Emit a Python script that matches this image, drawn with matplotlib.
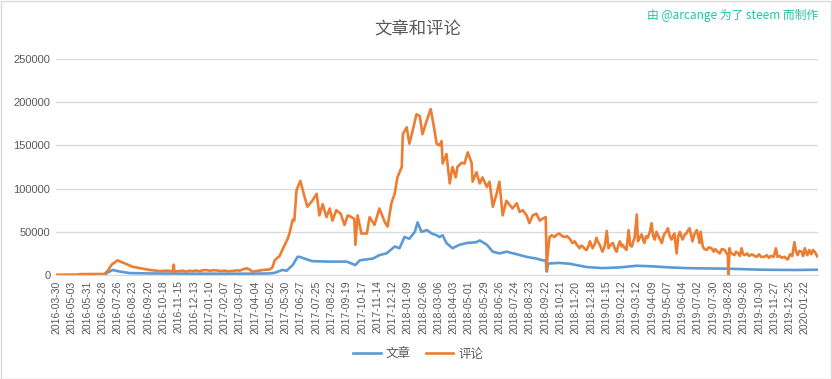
import matplotlib
matplotlib.use("Agg")
import matplotlib.pyplot as plt
import numpy as np
from matplotlib.patches import Rectangle

plt.rcParams['font.family'] = ['Noto Sans CJK SC', 'DejaVu Sans']

# tick labels, one every 28 data points
tick_dates = [
    "2016-03-30", "2016-05-03", "2016-05-31", "2016-06-28", "2016-07-26", "2016-08-23",
    "2016-09-20", "2016-10-18", "2016-11-15", "2016-12-13", "2017-01-10", "2017-02-07",
    "2017-03-07", "2017-04-04", "2017-05-02", "2017-05-30", "2017-06-27", "2017-07-25",
    "2017-08-22", "2017-09-19", "2017-10-17", "2017-11-14", "2017-12-12", "2018-01-09",
    "2018-02-06", "2018-03-06", "2018-04-03", "2018-05-01", "2018-05-29", "2018-06-26",
    "2018-07-24", "2018-08-23", "2018-09-22", "2018-10-21", "2018-11-20", "2018-12-18",
    "2019-01-15", "2019-02-12", "2019-03-12", "2019-04-09", "2019-05-07", "2019-06-04",
    "2019-07-02", "2019-07-30", "2019-08-28", "2019-09-26", "2019-10-30", "2019-11-27",
    "2019-12-25", "2020-01-22",
]
n_points = 1396

# 评论 (comments): sample day index -> value (in thousands)
comment_day = [
    0, 39, 42, 88, 94, 101, 112, 119, 127, 139, 152, 171, 189, 204, 213, 215, 216,
    231, 237, 244, 250, 256, 262, 268, 275, 281, 287, 293, 300, 308, 315, 323, 330,
    336, 342, 348, 351, 354, 359, 365, 372, 378, 385, 391, 396,
    400, 409, 414, 424, 427,
    433, 436, 440, 447, 455, 460, 469, 473, 477, 482, 488, 495, 501, 506, 513, 521, 528,
    534, 541, 546, 548, 552, 559, 569, 574, 583, 592, 602, 607, 614, 620, 625, 633, 635,
    642, 647, 653, 660, 666, 671, 679, 686, 691, 697, 702, 706, 708, 715, 721, 726, 732,
    735, 743, 748, 754, 761, 763, 770, 776, 781, 789, 794, 800, 807, 812, 818, 825, 831,
    836, 844, 849, 855, 862, 867, 873, 880, 886, 891, 897, 899, 900,
    904, 908, 913, 918, 922, 927, 932, 936, 941, 946, 950, 954, 959, 962, 965, 969, 972,
    975, 978, 981, 983, 987, 990, 993, 996, 999, 1001, 1005, 1009, 1012, 1016, 1020, 1024,
    1027, 1030, 1033, 1036, 1038, 1042, 1045, 1049, 1052, 1055, 1058, 1060, 1064, 1066,
    1070, 1073, 1076, 1078, 1081, 1084, 1088, 1091, 1094, 1097, 1100, 1102, 1106, 1110,
    1113, 1115, 1118, 1121, 1125, 1128, 1131, 1133, 1137, 1140, 1143, 1146, 1148, 1152,
    1155, 1158, 1161, 1164, 1166, 1170, 1174, 1177, 1179, 1181, 1185, 1188, 1192, 1196,
    1201, 1205, 1208, 1212, 1216, 1220, 1225, 1228, 1231, 1232, 1234, 1236, 1240, 1243,
    1246, 1250, 1253, 1256, 1259, 1262, 1266, 1270, 1275, 1280, 1284, 1288, 1292, 1298,
    1302, 1306, 1310, 1315, 1319, 1322, 1326, 1330, 1335, 1338, 1341, 1345, 1349, 1353,
    1356, 1359, 1362, 1366, 1369, 1372, 1375, 1377, 1380, 1384, 1387, 1390, 1393, 1395,
]
comment_k = [
    0, 0.3, 1, 1.2, 5, 12, 17, 15, 13, 9.6, 8, 5.8, 4.6, 5, 4.2, 12, 4,
    5, 4, 5, 4.5, 5.2, 4.2, 5.5, 5.8, 4.8, 5.5, 5.4, 4.6, 5, 4.3, 4.6, 5.4,
    5, 6.5, 7.7, 7, 6.5, 3.8, 4.5, 5, 5.8, 6.2, 6.5, 9,
    17, 22, 29, 42, 48,
    64, 63, 98, 109, 90, 79, 86, 90, 94, 69, 82, 67, 77, 63, 75, 71, 58,
    69, 67, 65, 35, 69, 48, 48, 67, 58, 77, 61, 56, 83, 94, 113, 125, 163,
    171, 152, 167, 186, 184, 163, 179, 192, 175, 152, 150, 155, 129, 140, 106, 125, 113,
    125, 130, 129, 142, 130, 108, 119, 106, 113, 102, 108, 79, 94, 108, 69, 86, 81,
    77, 83, 73, 75, 69, 60, 69, 71, 63, 65, 67, 6, 21,
    44, 46, 44, 47, 48, 45, 44, 45, 42, 37, 39, 35, 31, 34, 33, 30, 29,
    33, 39, 34, 31, 36, 43, 38, 35, 30, 27, 33, 51, 31, 35, 37, 30,
    27, 34, 39, 33, 35, 31, 29, 52, 34, 33, 40, 43, 70, 39,
    44, 47, 40, 37, 45, 43, 50, 60, 45, 41, 50, 47, 42, 37,
    45, 48, 50, 54, 44, 41, 46, 48, 25, 45, 50, 44, 41, 47,
    48, 52, 54, 45, 39, 48, 52, 44, 37, 50, 33, 30, 29, 32,
    31, 27, 30, 27, 25, 30, 29, 26, 23, 0, 31, 26, 24, 23,
    27, 25, 22, 31, 24, 23, 25, 22, 24, 22, 21, 24, 21, 21,
    23, 20, 22, 21, 31, 21, 22, 20, 21, 19, 18, 24, 22, 38,
    27, 23, 28, 27, 22, 31, 25, 23, 29, 24, 29, 27, 24, 21.5,
]

# 文章 (posts)
post_day = [
    0, 88, 94, 103, 116, 134, 171, 262, 354, 391, 400, 414, 422, 433, 442, 446, 459, 469,
    501, 532, 548, 556, 580, 592, 605, 620, 629, 638, 647, 657, 662, 669, 679, 688, 697,
    702, 708, 715, 726, 739, 752, 770, 776, 789, 800, 812, 825, 844, 862, 880, 891, 897,
    899, 901, 904, 922, 941, 972, 1001, 1033, 1064, 1093, 1124, 1155, 1179, 1231, 1293,
    1353, 1395,
]
post_k = [
    0, 0.3, 3, 5.8, 4, 2.2, 1.8, 1.5, 1.5, 1.8, 2.5, 5.8, 5, 11.5, 21, 21, 18, 16,
    15.5, 15.5, 11.5, 17, 19, 23, 25, 33, 31, 44, 42, 50, 61, 50, 52, 48, 46,
    44, 46, 37, 31, 35, 37, 38, 40, 35, 27, 25, 27, 24, 21, 19, 17, 17,
    4, 12, 13.4, 14, 13, 9.2, 8, 8.8, 10.7, 10, 8.8, 8, 7.7, 7.3, 6.1,
    5.8, 6.1,
]

fig = plt.figure(figsize=(8.32, 3.79), dpi=100)
ax = fig.add_axes([0.0673, 0.2744, 0.9157, 0.5699])

ax.plot(post_day, np.array(post_k) * 1000, color='#5B9BD5', lw=1.9, label='文章')
ax.plot(comment_day, np.array(comment_k) * 1000, color='#ED7D31', lw=1.9, label='评论')

ax.set_xlim(-1, n_points)
ax.set_ylim(0, 250000)
ax.set_yticks(range(0, 250001, 50000))
ax.set_yticklabels([str(v) for v in range(0, 250001, 50000)],
                   family='Liberation Sans', fontsize=8, color='#595959')
ax.set_xticks(np.arange(len(tick_dates)) * 28)
ax.set_xticklabels(tick_dates, rotation=90, family='Liberation Sans',
                   fontsize=7.5, color='#595959')
ax.tick_params(length=0, pad=4)
ax.grid(axis='y', color='#d9d9d9', lw=0.9)
ax.set_axisbelow(True)
for s in ['top', 'right', 'left']:
    ax.spines[s].set_visible(False)
ax.spines['bottom'].set_color('#d9d9d9')

fig.text(0.502, 0.922, '文章和评论', ha='center', va='center', fontsize=12.5,
         color='#595959', fontweight='light')
fig.text(0.983, 0.958, '由 @arcange 为了 steem 而制作', ha='right', va='center',
         fontsize=8.5, color='#22c3a3')

fig.legend(loc='center', bbox_to_anchor=(0.503, 0.066), ncol=2, frameon=False,
           fontsize=9, handlelength=2.2, handletextpad=0.4, columnspacing=1.2,
           labelcolor='#595959')

fig.patches.append(Rectangle((0.001, 0.001), 0.998, 0.997, transform=fig.transFigure,
                             fill=False, edgecolor='#d9d9d9', lw=1))

fig.savefig('out.png', dpi=100)
